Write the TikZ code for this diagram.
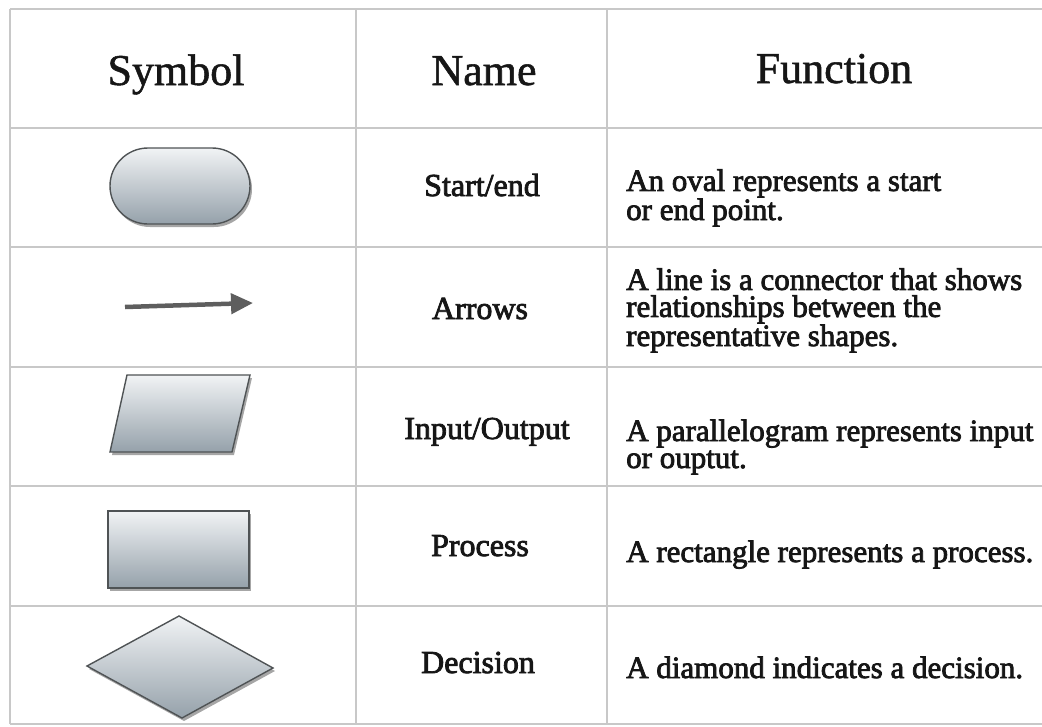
\documentclass[tikz,border=0pt]{standalone}
\usepackage{fontspec}
\setmainfont{Liberation Serif}
\newfontfamily\bodyfont{Liberation Serif}[FakeBold=2.5]
\newfontfamily\headfont{Liberation Serif}[FakeBold=1.2]
\usetikzlibrary{shapes.misc,shapes.geometric,shadows,arrows.meta}
\definecolor{gridc}{HTML}{C8C8C8}
\definecolor{edgec}{HTML}{4F5355}
\definecolor{topc}{HTML}{F1F3F5}
\definecolor{botc}{HTML}{95A1AA}
\definecolor{txt}{HTML}{161616}
\definecolor{arrc}{HTML}{5E5E5E}
\tikzset{
  gridline/.style={draw=gridc, line width=2pt},
  symshape/.style={draw=edgec, line width=1.4pt, top color=topc, bottom color=botc,
     drop shadow={shadow xshift=2pt, shadow yshift=-3pt, fill=black, opacity=0.35}},
  headtxt/.style={anchor=base, text=txt, font=\headfont\fontsize{44}{50}\selectfont},
  nametxt/.style={anchor=base, text=txt, font=\bodyfont\fontsize{32}{26}\selectfont},
  functxt/.style={anchor=base west, align=left, text=txt, inner sep=0pt, font=\bodyfont\fontsize{31}{27}\selectfont},
  arrowline/.style={draw=arrc, line width=4.5pt, -{Triangle[length=22pt,width=20pt]}}
}
\begin{document}
\begin{tikzpicture}[x=1pt,y=-1pt]
\useasboundingbox (0,0) rectangle (1042,726);
% grid
\coordinate (tl) at (10,9);
\coordinate (tr) at (1042,9);
\coordinate (bl) at (10,724);
\coordinate (br) at (1042,724);
\draw[gridline] (tl) -- (tr);
\draw[gridline] (bl) -- (br);
\draw[gridline] (tl) -- (bl);
\foreach \y in {128,247,367,486,606} \draw[gridline] (10,\y) -- (1042,\y);
\foreach \x in {356,607} \draw[gridline] (\x,9) -- (\x,724);
% headers
\node[headtxt] (hsym) at (176,85) {Symbol};
\node[headtxt] (hname) at (484,85) {Name};
\node[headtxt] (hfun) at (834,83) {Function};
% symbols
\node[symshape, rounded rectangle, minimum width=140pt, minimum height=76pt, inner sep=0pt] (oval) at (180,186) {};
\coordinate (as) at (125,307);
\coordinate (ae) at (253,303);
\draw[arrowline] (as) -- (ae);
\coordinate (p1) at (127,375);
\coordinate (p2) at (250,375);
\coordinate (p3) at (232,452);
\coordinate (p4) at (110,452);
\path[symshape] (p1) -- (p2) -- (p3) -- (p4) -- cycle;
\node[symshape, rectangle, minimum width=141pt, minimum height=77pt, inner sep=0pt] (rect) at (178.5,549.5) {};
\coordinate (d1) at (87,666);
\coordinate (d2) at (179,616);
\coordinate (d3) at (273,668);
\coordinate (d4) at (182,718);
\path[symshape] (d1) -- (d2) -- (d3) -- (d4) -- cycle;
% names
\node[nametxt] (n1) at (482,196) {Start/end};
\node[nametxt] (n2) at (480,319) {Arrows};
\node[nametxt] (n3) at (487,439) {Input/Output};
\node[nametxt] (n4) at (480,556) {Process};
\node[nametxt] (n5) at (478,673) {Decision};
% functions (base anchor = baseline of last line)
\node[functxt] (f1) at (626,220) {An oval represents a start\\or end point.};
\node[functxt] (f2) at (626,346) {A line is a connector that shows\\relationships between the\\representative shapes.};
\node[functxt] (f3) at (626,468) {A parallelogram represents input\\or ouptut.};
\node[functxt] (f4) at (626,562) {A rectangle represents a process.};
\node[functxt] (f5) at (626,678) {A diamond indicates a decision.};
\end{tikzpicture}
\end{document}
